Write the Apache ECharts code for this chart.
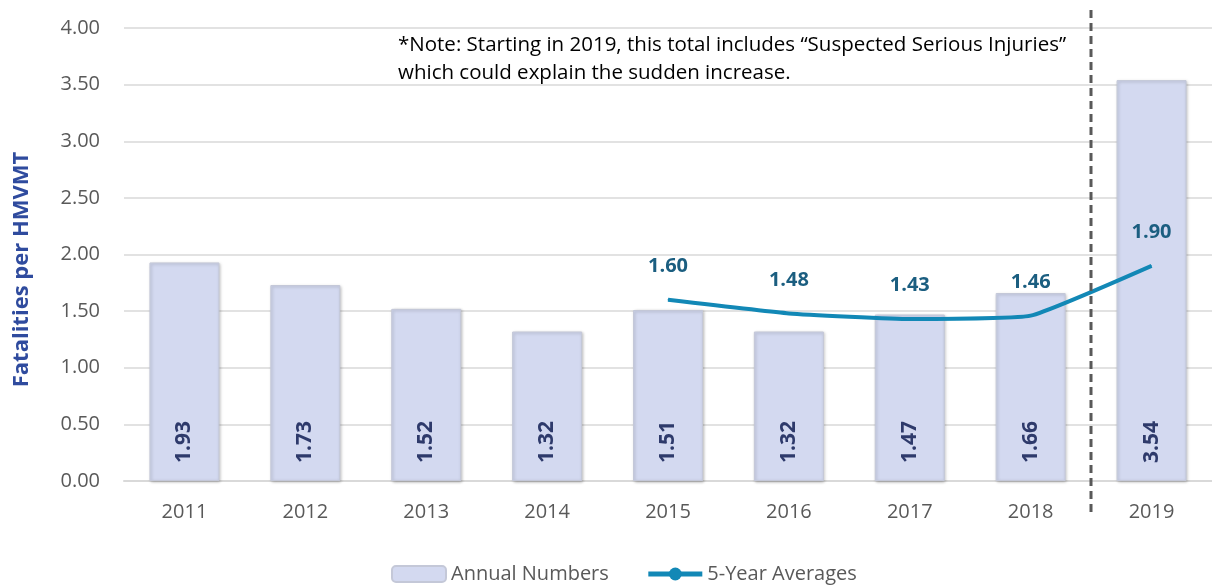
<!DOCTYPE html>
<html>
<head>
<meta charset="utf-8">
<script src="https://cdn.jsdelivr.net/npm/echarts@6/dist/echarts.min.js"></script>
<style>
html,body{margin:0;padding:0;background:#fff;}
#chart{width:1212px;height:586px;}
</style>
</head>
<body>
<div id="chart"></div>
<script>
const years = ['2011','2012','2013','2014','2015','2016','2017','2018','2019'];
const annualNumbers = [1.93, 1.73, 1.52, 1.32, 1.51, 1.32, 1.47, 1.66, 3.54];
const fiveYearAverages = [null, null, null, null, 1.60, 1.48, 1.43, 1.46, 1.90];
const yTicks = { min: 0, max: 4, interval: 0.5 };
const noteLines = ['*Note: Starting in 2019, this total includes \u201cSuspected Serious Injuries\u201d', 'which could explain the sudden increase.'];

const FONT = '"Open Sans", "Noto Sans", sans-serif';
const chart = echarts.init(document.getElementById('chart'));

const option = {
  animation: false,
  textStyle: { fontFamily: FONT },
  grid: { left: 124, right: -8, top: 28, bottom: 105, containLabel: false },
  legend: {
    top: 559,
    left: 386,
    itemWidth: 54,
    itemHeight: 16,
    itemGap: 37,
    textStyle: { fontSize: 20, color: '#595959', fontFamily: FONT },
    data: [
      { name: 'Annual Numbers' },
      { name: '5-Year Averages', lineStyle: { width: 5, color: '#1288B6' }, itemStyle: { color: '#1288B6' } }
    ]
  },
  xAxis: {
    type: 'category',
    data: years,
    axisLine: { lineStyle: { color: '#D9D9D9', width: 2 } },
    axisTick: { show: false },
    axisLabel: { fontSize: 20, color: '#595959', margin: 21, fontFamily: FONT }
  },
  yAxis: {
    type: 'value',
    min: yTicks.min,
    max: yTicks.max,
    interval: yTicks.interval,
    name: 'Fatalities per HMVMT',
    nameLocation: 'middle',
    nameGap: 91,
    nameTextStyle: { fontSize: 22, fontWeight: 'bold', color: '#2F4B9E', fontFamily: FONT, padding: [0, 30, 0, 0] },
    axisLine: { show: false },
    axisTick: { show: false },
    axisLabel: { fontSize: 20, color: '#595959', margin: 24, fontFamily: FONT, formatter: v => v.toFixed(2) },
    splitLine: { lineStyle: { color: '#D9D9D9', width: 1.5 } }
  },
  series: [
    {
      name: 'Annual Numbers',
      type: 'bar',
      data: annualNumbers,
      barWidth: 70,
      itemStyle: {
        color: '#D3D9F0',
        borderColor: '#C4C8D8',
        borderWidth: 1,
        shadowColor: 'rgba(0,0,0,0.25)',
        shadowBlur: 3,
        shadowOffsetX: 1,
        shadowOffsetY: 1
      },
      label: {
        show: true,
        position: 'insideBottom',
        distance: 18,
        rotate: 90,
        align: 'left',
        verticalAlign: 'middle',
        fontSize: 21,
        fontWeight: 'bold',
        color: '#2E3A6B',
        fontFamily: FONT,
        formatter: p => p.value.toFixed(2)
      },
      z: 2
    },
    {
      name: '5-Year Averages',
      type: 'line',
      data: fiveYearAverages,
      smooth: 0.12,
      symbol: 'circle',
      symbolSize: 1,
      showSymbol: true,
      connectNulls: false,
      lineStyle: { color: '#1288B6', width: 4 },
      itemStyle: { color: '#1288B6' },
      label: {
        show: true,
        position: 'top',
        distance: 23,
        fontSize: 20,
        fontWeight: 'bold',
        color: '#1B5E80',
        fontFamily: FONT,
        formatter: p => p.value == null ? '' : p.value.toFixed(2)
      },
      z: 5
    }
  ]
};
chart.setOption(option);

function addGraphics() {
  const x1 = chart.convertToPixel({ xAxisIndex: 0 }, years[7]);
  const x2 = chart.convertToPixel({ xAxisIndex: 0 }, years[8]);
  const xd = Math.round((x1 + x2) / 2);
  const yTop = chart.convertToPixel({ yAxisIndex: 0 }, yTicks.max);
  chart.setOption({
    graphic: [
      {
        type: 'line',
        shape: { x1: xd, y1: 10, x2: xd, y2: 512 },
        style: { stroke: '#595959', lineWidth: 3, lineDash: [8, 5] },
        z: 10
      },
      {
        type: 'text',
        left: 398,
        top: yTop + 3,
        style: {
          text: noteLines.join('\n'),
          fontSize: 20.5,
          lineHeight: 28,
          fill: '#000000',
          fontFamily: FONT
        },
        z: 10
      }
    ]
  });
}
addGraphics();
</script>
</body>
</html>
